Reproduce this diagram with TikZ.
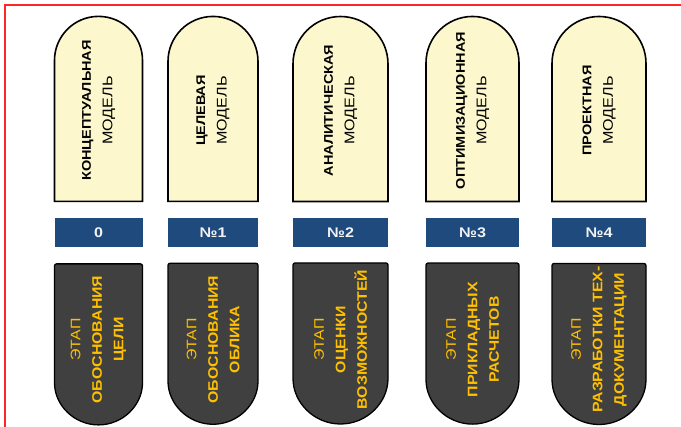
\documentclass[tikz,border=0pt]{standalone}
\usepackage{fontspec}
\setmainfont{Liberation Sans}[FakeStretch=1.15]
\usetikzlibrary{shapes.misc}
\definecolor{cream}{HTML}{FCF7CC}
\definecolor{slate}{HTML}{404040}
\definecolor{navy}{HTML}{1F4A7E}
\definecolor{gold}{HTML}{FFC000}
\newcommand{\mdl}{{\fontsize{14}{21}\selectfont МОДЕЛЬ}}

\begin{document}
\begin{tikzpicture}[x=1pt,y=1pt,
  model/.style={draw=black,line width=1.6pt,fill=cream,rounded rectangle,rounded rectangle west arc=none,
    rotate=90,minimum width=185pt,minimum height=91pt,inner sep=0pt,align=center,font=\fontsize{12.6}{21.5}\selectfont},
  num/.style={fill=navy,minimum width=91pt,minimum height=29pt,inner sep=0pt,text=white!95!black,font=\fontsize{14}{16}\selectfont\bfseries},
  stage/.style={draw=black,line width=1.3pt,fill=slate,rounded rectangle,rounded rectangle east arc=none,rounded corners=2pt,
    rotate=90,minimum width=161pt,minimum height=91pt,inner sep=0pt,align=center,text=gold,font=\fontsize{13.8}{21.5}\selectfont}
]
\useasboundingbox (0,0) rectangle (681,427);
\draw[red!85,line width=1.2pt] (5,0) -- (5,422) -- (681,422);

\node[model,minimum height=88pt] (m0) at (98.5,316.5) {\textbf{КОНЦЕПТУАЛЬНАЯ}\\\mdl};
\node[model,minimum height=90pt] (m1) at (213,316.5) {\textbf{ЦЕЛЕВАЯ}\\\mdl};
\node[model,minimum height=95pt] (m2) at (340.5,316.5) {\textbf{АНАЛИТИЧЕСКАЯ}\\\mdl};
\node[model,minimum height=93pt] (m3) at (472.5,316.5) {\textbf{ОПТИМИЗАЦИОННАЯ}\\\mdl};
\node[model,minimum height=94pt] (m4) at (599,316.5) {\textbf{ПРОЕКТНАЯ}\\\mdl};

\node[num,minimum width=88pt] (n0) at (98.5,194.5) {0};
\node[num,minimum width=90pt] (n1) at (213,194.5) {№1};
\node[num,minimum width=95pt] (n2) at (340.5,194.5) {№2};
\node[num,minimum width=93pt] (n3) at (472.5,194.5) {№3};
\node[num,minimum width=94pt] (n4) at (599,194.5) {№4};

\node[stage,minimum height=88pt] (s0) at (98.5,87.5) {ЭТАП\\\textbf{ОБОСНОВАНИЯ}\\\textbf{ЦЕЛИ}};
\node[stage,minimum height=90pt] (s1) at (213,87.5) {ЭТАП\\\textbf{ОБОСНОВАНИЯ}\\\textbf{ОБЛИКА}};
\node[stage,minimum height=95pt] (s2) at (340.5,87.5) {ЭТАП\\\textbf{ОЦЕНКИ}\\\textbf{ВОЗМОЖНОСТЕЙ}};
\node[stage,minimum height=93pt] (s3) at (472.5,87.5) {ЭТАП\\\textbf{ПРИКЛАДНЫХ}\\\textbf{РАСЧЕТОВ}};
\node[stage,minimum height=94pt] (s4) at (599,87.5) {ЭТАП\\\textbf{РАЗРАБОТКИ ТЕХ-}\\\textbf{ДОКУМЕНТАЦИИ}};
\end{tikzpicture}
\end{document}
